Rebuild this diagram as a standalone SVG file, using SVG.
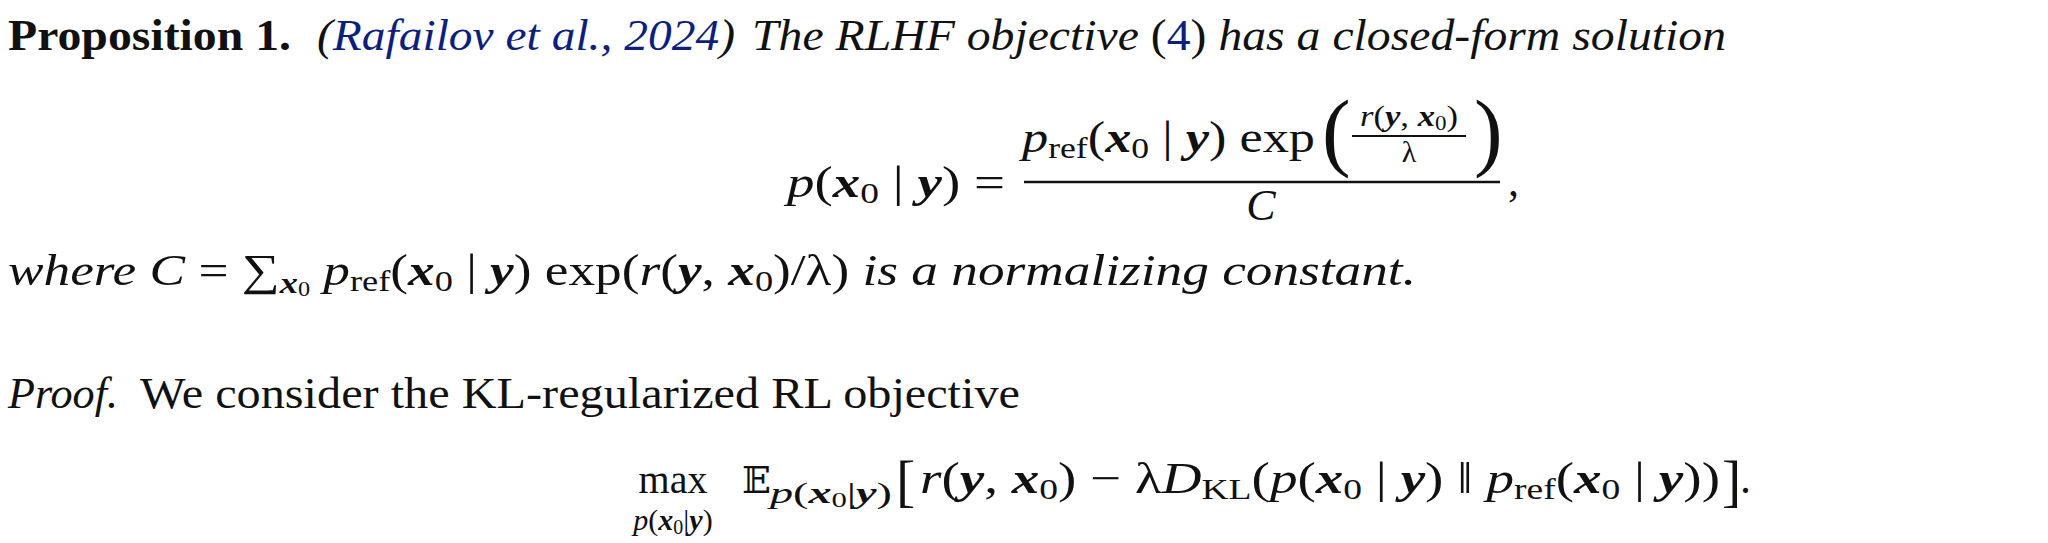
<svg xmlns="http://www.w3.org/2000/svg" width="2048" height="543" viewBox="0 0 2048 543">
<style>
text{font-family:"Liberation Serif","Times New Roman",serif;fill:#111;font-size:44px}
.i{font-style:italic}.b{font-weight:bold}.bi{font-weight:bold;font-style:italic}
.blue{fill:#0d1f7a}.s{font-size:30px}.m{font-size:40px}
</style>
<rect width="2048" height="543" fill="#fff"/>
<text class="b" x="8" y="50" textLength="283" lengthAdjust="spacingAndGlyphs">Proposition 1.</text>
<text class="i" x="317" y="50" textLength="418" lengthAdjust="spacingAndGlyphs">(<tspan class="blue">Rafailov et al., 2024</tspan>)</text>
<text class="i" x="752" y="50" textLength="974" lengthAdjust="spacingAndGlyphs">The RLHF objective <tspan font-style="normal">(</tspan><tspan font-style="normal" class="blue">4</tspan><tspan font-style="normal">)</tspan> has a closed-form solution</text>

<text x="787" y="197" textLength="218" lengthAdjust="spacingAndGlyphs"><tspan class="i">p</tspan>(<tspan class="bi">x</tspan><tspan class="s" dy="6">0</tspan><tspan dy="-6"> | </tspan><tspan class="bi">y</tspan>) =</text>
<text x="1022" y="152" textLength="293" lengthAdjust="spacingAndGlyphs"><tspan class="i">p</tspan><tspan class="s" dy="6">ref</tspan><tspan dy="-6">(</tspan><tspan class="bi">x</tspan><tspan class="s" dy="6">0</tspan><tspan dy="-6"> | </tspan><tspan class="bi">y</tspan>) exp</text>
<text x="1322" y="160" style="font-size:86px;font-weight:300">(</text>
<text x="1474" y="160" style="font-size:86px;font-weight:300">)</text>
<text class="s" x="1360" y="126" textLength="98" lengthAdjust="spacingAndGlyphs"><tspan class="i">r</tspan>(<tspan class="bi">y</tspan>, <tspan class="bi">x</tspan><tspan font-size="20" dy="4">0</tspan><tspan dy="-4">)</tspan></text>
<line x1="1352" y1="136" x2="1466" y2="136" stroke="#111" stroke-width="2"/>
<text class="s" x="1409" y="162" text-anchor="middle">λ</text>
<line x1="1024" y1="182" x2="1500" y2="182" stroke="#111" stroke-width="2.5"/>
<text class="i" x="1261" y="220" text-anchor="middle">C</text>
<text x="1508" y="196">,</text>

<text x="8" y="285" textLength="1408" lengthAdjust="spacingAndGlyphs"><tspan class="i">where C</tspan> = ∑<tspan class="bi s" dy="8">x</tspan><tspan font-size="20" dy="3">0</tspan><tspan dy="-11"> </tspan><tspan class="i">p</tspan><tspan class="s" dy="6">ref</tspan><tspan dy="-6">(</tspan><tspan class="bi">x</tspan><tspan class="s" dy="6">0</tspan><tspan dy="-6"> | </tspan><tspan class="bi">y</tspan>) exp(<tspan class="i">r</tspan>(<tspan class="bi">y</tspan>, <tspan class="bi">x</tspan><tspan class="s" dy="6">0</tspan><tspan dy="-6">)/λ) </tspan><tspan class="i">is a normalizing constant.</tspan></text>

<text class="i" x="8" y="408" textLength="110" lengthAdjust="spacingAndGlyphs">Proof.</text>
<text x="140" y="408" textLength="880" lengthAdjust="spacingAndGlyphs">We consider the KL-regularized RL objective</text>

<text class="m" x="673" y="493" text-anchor="middle">max</text>
<text class="s" x="673" y="530" text-anchor="middle"><tspan class="i">p</tspan>(<tspan class="bi">x</tspan><tspan font-size="20" dy="4">0</tspan><tspan dy="-4">|</tspan><tspan class="bi">y</tspan>)</text>
<text x="742" y="493" style="font-family:'DejaVu Serif','DejaVu Sans',serif;font-size:38px">𝔼</text>
<text class="s" x="770" y="503" textLength="122" lengthAdjust="spacingAndGlyphs"><tspan class="i">p</tspan>(<tspan class="bi">x</tspan><tspan font-size="20" dy="4">0</tspan><tspan dy="-4">|</tspan><tspan class="bi">y</tspan>)</text>
<text x="896" y="500" style="font-size:58px;font-weight:300">[</text>
<text x="920" y="493" textLength="800" lengthAdjust="spacingAndGlyphs"><tspan class="i">r</tspan>(<tspan class="bi">y</tspan>, <tspan class="bi">x</tspan><tspan class="s" dy="6">0</tspan><tspan dy="-6">) − λ</tspan><tspan class="i">D</tspan><tspan class="s" dy="6">KL</tspan><tspan dy="-6">(</tspan><tspan class="i">p</tspan>(<tspan class="bi">x</tspan><tspan class="s" dy="6">0</tspan><tspan dy="-6"> | </tspan><tspan class="bi">y</tspan>) ‖ <tspan class="i">p</tspan><tspan class="s" dy="6">ref</tspan><tspan dy="-6">(</tspan><tspan class="bi">x</tspan><tspan class="s" dy="6">0</tspan><tspan dy="-6"> | </tspan><tspan class="bi">y</tspan>))</text>
<text x="1722" y="500" style="font-size:58px;font-weight:300">]</text>
<text x="1740" y="493">.</text>
</svg>
